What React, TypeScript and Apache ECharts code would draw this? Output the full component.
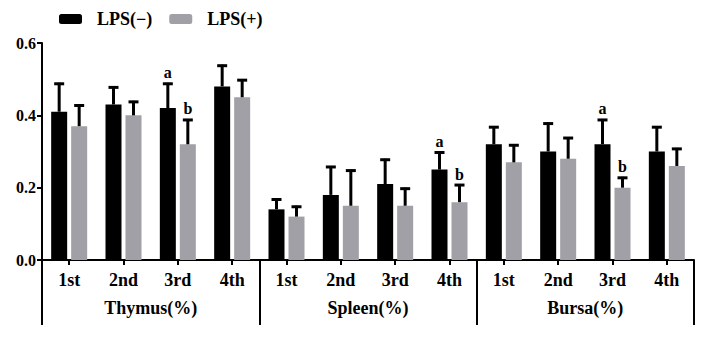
import React, { useEffect, useRef } from "react";
import * as echarts from "echarts";

const categories = ["1st", "2nd", "3rd", "4th", "1st", "2nd", "3rd", "4th", "1st", "2nd", "3rd", "4th"];
const groups = ["Thymus(%)", "Spleen(%)", "Bursa(%)"];
const seriesNames = ["LPS(−)", "LPS(+)"];
const lpsNeg = [0.41, 0.43, 0.42, 0.48, 0.14, 0.18, 0.21, 0.25, 0.32, 0.30, 0.32, 0.30];
const lpsNegUpper = [0.49, 0.48, 0.49, 0.54, 0.17, 0.26, 0.28, 0.30, 0.37, 0.38, 0.39, 0.37];
const lpsPos = [0.37, 0.40, 0.32, 0.45, 0.12, 0.15, 0.15, 0.16, 0.27, 0.28, 0.20, 0.26];
const lpsPosUpper = [0.43, 0.44, 0.39, 0.50, 0.15, 0.25, 0.20, 0.21, 0.32, 0.34, 0.23, 0.31];
const lpsNegLetters = ["", "", "a", "", "", "", "", "a", "", "", "a", ""];
const lpsPosLetters = ["", "", "b", "", "", "", "", "b", "", "", "b", ""];
const yTicks = [0, 0.2, 0.4, 0.6];

const FONT = "Liberation Serif";
const GRAY = "#a0a0a6";

function errorSeries(means: number[], uppers: number[], letters: string[], offset: number) {
  return {
    type: "custom",
    silent: true,
    z: 5,
    encode: { x: 0, y: [1, 2] },
    data: means.map((m, i) => [i, m, uppers[i]]),
    renderItem: (params: any, api: any) => {
      const idx = api.value(0);
      const base = api.coord([idx, api.value(1)]);
      const top = api.coord([idx, api.value(2)]);
      const x = base[0] + offset;
      const letter = letters[params.dataIndex];
      const children: any[] = [
        { type: "line", shape: { x1: x, y1: base[1], x2: x, y2: top[1] }, style: { stroke: "#000", lineWidth: 3 } },
        { type: "line", shape: { x1: x - 5, y1: top[1] + 1, x2: x + 5, y2: top[1] + 1 }, style: { stroke: "#000", lineWidth: 3 } },
      ];
      if (letter) {
        children.push({
          type: "text",
          x: x,
          y: top[1] - 2,
          style: { text: letter, fill: "#000", fontFamily: FONT, fontWeight: "bold", fontSize: 16, align: "center", verticalAlign: "bottom" },
        });
      }
      return { type: "group", children };
    },
  };
}

export default function App() {
  const ref = useRef<HTMLDivElement>(null);
  useEffect(() => {
    if (!ref.current) return;
    const chart = echarts.init(ref.current, undefined, { renderer: "svg" });
    chart.setOption({
      animation: false,
      backgroundColor: "#fff",
      textStyle: { fontFamily: FONT },
      legend: {
        data: seriesNames,
        left: 59,
        top: 10,
        padding: 0,
        itemWidth: 23,
        itemHeight: 10,
        itemGap: 17,
        textStyle: { fontFamily: FONT, fontWeight: "bold", fontSize: 18, color: "#000", padding: [0, 0, 0, 10] },
      },
      grid: { left: 42, right: 13, top: 43, bottom: 89, containLabel: false },
      xAxis: [
        {
          type: "category",
          data: categories,
          position: "bottom",
          axisLine: { lineStyle: { color: "#000", width: 2 } },
          axisTick: { show: true, alignWithLabel: true, length: 5, lineStyle: { color: "#000", width: 2 } },
          axisLabel: { margin: 11, color: "#000", fontFamily: FONT, fontWeight: "bold", fontSize: 18, interval: 0 },
        },
        {
          type: "category",
          data: groups,
          position: "bottom",
          axisLine: { show: false },
          axisTick: { show: true, alignWithLabel: false, interval: 0, length: 65, lineStyle: { color: "#000", width: 2 } },
          axisLabel: { margin: 39, color: "#000", fontFamily: FONT, fontWeight: "bold", fontSize: 18, interval: 0 },
        },
      ],
      yAxis: {
        type: "value",
        min: 0,
        max: 0.6,
        interval: 0.2,
        splitLine: { show: false },
        axisLine: { show: true, lineStyle: { color: "#000", width: 2 } },
        axisTick: { show: true, length: 5, lineStyle: { color: "#000", width: 2 } },
        axisLabel: {
          margin: 6,
          color: "#000",
          fontFamily: FONT,
          fontWeight: "bold",
          fontSize: 16,
          formatter: (v: number) => (yTicks.includes(Math.round(v * 10) / 10) ? v.toFixed(1) : ""),
        },
      },
      series: [
        { name: seriesNames[0], type: "bar", data: lpsNeg, barWidth: 16, barGap: "25%", itemStyle: { color: "#000" } },
        { name: seriesNames[1], type: "bar", data: lpsPos, barWidth: 16, barGap: "25%", itemStyle: { color: GRAY } },
        errorSeries(lpsNeg, lpsNegUpper, lpsNegLetters, -10),
        errorSeries(lpsPos, lpsPosUpper, lpsPosLetters, 10),
      ],
    });
    return () => chart.dispose();
  }, []);
  return <div ref={ref} style={{ width: 707, height: 349, position: "absolute", left: 0, top: 0 }} />;
}
